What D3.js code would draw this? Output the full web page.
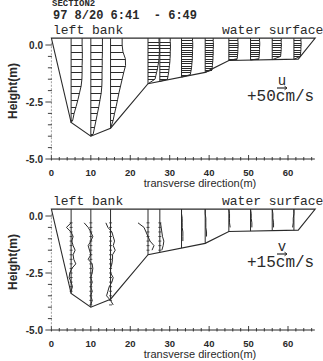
<!DOCTYPE html>
<html><head><meta charset="utf-8">
<script src="https://cdn.jsdelivr.net/npm/d3@7/dist/d3.min.js"></script>
<style>body{margin:0;background:#fff}svg{display:block}</style>
</head><body>
<script>
// ---------- data ----------
const titleLines = ["SECTION2", "97 8/20 6:41  - 6:49"];
const stationX = [5, 10, 15, 24.5, 27.5, 33, 39, 45, 50.5, 56, 61.5];
const bedX = [0, 5, 10, 15, 24.5, 39, 45, 62.6, 66.9];
const bedZ = [0.3, -3.4, -4.0, -3.65, -1.7, -1.2, -0.68, -0.62, 0.3];
const surfaceZ = 0.3;
const xTickValues = [0, 10, 20, 30, 40, 50, 60];
const yTickValues = [0, -2.5, -5];
const yTickLabels = ["0.0", "-2.5", "-5.0"];

// streamwise velocity u (cm/s): first depth (m), depth step (m), values
const uStart = [0.0, 0.0, 0.0, 0.15, 0.15, 0.2, 0.2, 0.2, 0.2, 0.2, 0.2];
const uStep  = [0.3, 0.3, 0.3, 0.15, 0.15, 0.1, 0.1, 0.1, 0.1, 0.1, 0.1];
const uValues = [
  [55, 56, 56, 55, 55, 54, 50, 42, 34, 25, 15, 8],
  [58, 58, 57, 57, 56, 56, 55, 52, 46, 40, 33, 26, 19, 12],
  [58, 62, 74, 75, 66, 58, 50, 42, 35, 28, 20, 13],
  [55, 56, 57, 57, 56, 55, 53, 50, 47, 43, 39, 35],
  [52, 53, 53, 52, 52, 51, 50, 48, 46, 44, 41, 38],
  [55, 56, 56, 56, 55, 55, 55, 54, 54, 53, 52, 51, 50, 48, 46, 44],
  [40, 41, 41, 41, 40, 40, 40, 39, 39, 38, 37, 36, 35, 34],
  [45, 46, 46, 46, 45, 45, 44, 43, 42],
  [45, 46, 46, 45, 45, 45, 44, 43, 42],
  [45, 45, 46, 45, 45, 44, 43, 42],
  [35, 36, 36, 35, 35, 34, 33, 32]
];

// lateral velocity v (cm/s)
const vStart = [-0.3, -0.3, -0.3, -0.3, -0.3, 0.3, 0.3, 0.3, 0.3, 0.3, 0.3];
const vStep  = [0.2, 0.2, 0.2, 0.2, 0.2, 0.2, 0.2, 0.2, 0.2, 0.2, 0.2];
const vValues = [
  [0, -7, 0, 3, 1, 3, 6, 3, 4, 7, 1, -2, -3, 0, 2, 0],
  [-10, -4, 0, 3, 0, -4, -2, 0, -4, 2, 3, 2, 0, 2, 0, 2, 0, 2, 0],
  [-7, -4, 2, 4, 6, 4, 7, 3, 3, 2, 0, 0, 4, 2, -2, -4, -6, 0, 4],
  [-15, -6, -3, 0, 3, 9, 6],
  [1, 2, 3, 4, 6, 5, 3],
  [0, 0, 1, 1, 1, 2, 2, 2],
  [0, 0, 1, 1, 1, 2, 2],
  [0, 1, 1, 1, 2],
  [0, 1, 1, 2, 2],
  [0, 1, 1, 2, 2],
  [0, 0, -1, -1, -2]
];
const wigglyStations = 5;

// ---------- drawing ----------
const W = 323, H = 361, INK = "#2a2a2a";
const svg = d3.select("body").append("svg").attr("width", W).attr("height", H);
const xs = d3.scaleLinear().domain([0, 60]).range([51.4, 288]);
const bed = d3.scaleLinear().domain(bedX).range(bedZ);
const uLen = d3.scaleLinear().domain([0, 50]).range([0, 10]);
const vLen = d3.scaleLinear().domain([0, 15]).range([0, 10]);
const mono = "'Liberation Mono', 'DejaVu Sans Mono', monospace";
const sans = "'Liberation Sans', Arial, sans-serif";

svg.append("text").attr("x", 52).attr("y", 5.5).attr("font-family", mono).attr("font-weight", "bold")
  .attr("font-size", 9).attr("fill", INK).text(titleLines[0]);
svg.append("text").attr("x", 53).attr("y", 18.5).attr("font-family", mono).attr("font-weight", "bold")
  .attr("font-size", 12).attr("fill", INK).attr("xml:space", "preserve").style("white-space", "pre").text(titleLines[1]);

function drawPanel(y0, kind) {
  const g = svg.append("g");
  const ys = d3.scaleLinear().domain([0, -5]).range([y0, y0 + 114]);
  const axisY = ys(-5);
  // x axis
  g.append("line").attr("x1", xs(0)).attr("x2", xs(66.8)).attr("y1", axisY).attr("y2", axisY)
    .attr("stroke", INK).attr("stroke-width", 1);
  g.selectAll(".xm").data(d3.range(0, 67, 2)).join("line")
    .attr("x1", d => xs(d)).attr("x2", d => xs(d))
    .attr("y1", d => axisY - (d % 10 === 0 ? 4 : 2)).attr("y2", axisY + 1.5)
    .attr("stroke", INK).attr("stroke-width", 0.9);
  g.selectAll(".xl").data(xTickValues).join("text")
    .attr("x", d => xs(d)).attr("y", axisY + 16.5).attr("text-anchor", "middle")
    .attr("font-family", sans).attr("font-weight", "bold").attr("font-size", 9.5).attr("fill", INK)
    .text(d => d);
  g.append("text").attr("x", 200).attr("y", axisY + 27.5).attr("text-anchor", "middle")
    .attr("font-family", sans).attr("font-size", 11).attr("fill", INK).text("transverse direction(m)");
  // y axis
  g.append("line").attr("x1", xs(0)).attr("x2", xs(0)).attr("y1", ys(0.1)).attr("y2", axisY)
    .attr("stroke", "#777").attr("stroke-width", 0.7).attr("stroke-dasharray", "2,1.5");
  g.selectAll(".ym").data(d3.range(0, -5.01, -0.5)).join("line")
    .attr("x1", d => xs(0) - (Math.abs(d % 2.5) < 0.01 ? 6 : 3.5)).attr("x2", xs(0) + 0.5)
    .attr("y1", d => ys(d)).attr("y2", d => ys(d))
    .attr("stroke", INK).attr("stroke-width", 0.9);
  g.selectAll(".yl").data(yTickValues).join("text")
    .attr("x", 43).attr("y", d => ys(d) + 3.5).attr("text-anchor", "end")
    .attr("font-family", sans).attr("font-weight", "bold").attr("font-size", 10).attr("fill", INK)
    .text((d, i) => yTickLabels[i]);
  g.append("text").attr("transform", `translate(17,${y0 + 46}) rotate(-90)`).attr("text-anchor", "middle")
    .attr("font-family", sans).attr("font-weight", "bold").attr("font-size", 12).attr("fill", INK)
    .text("Height(m)");
  // cross-section outline
  const pts = bedX.map((b, i) => [xs(b), ys(bedZ[i])]);
  g.append("path").attr("d", d3.line()(pts) + "Z").attr("fill", "none")
    .attr("stroke", INK).attr("stroke-width", 1.1);
  // labels
  g.append("text").attr("x", 53).attr("y", ys(surfaceZ) - 4.5).attr("font-family", mono)
    .attr("font-size", 13).attr("fill", INK).text("left bank");
  g.append("text").attr("x", 222).attr("y", ys(surfaceZ) - 4).attr("font-family", mono)
    .attr("font-size", 13).attr("fill", INK).text("water surface");

  stationX.forEach((sx, i) => {
    const x0 = xs(sx), zb = bed(sx);
    g.append("line").attr("x1", x0).attr("x2", x0).attr("y1", ys(surfaceZ)).attr("y2", ys(zb))
      .attr("stroke", INK).attr("stroke-width", 1);
    if (kind === "u") {
      const pts = uValues[i].map((u, k) => [x0 + uLen(u), ys(uStart[i] - k * uStep[i])]);
      g.selectAll(null).data(pts).join("line")
        .attr("x1", x0).attr("x2", d => d[0]).attr("y1", d => Math.round(d[1]) + 0.5).attr("y2", d => Math.round(d[1]) + 0.5)
        .attr("stroke", INK).attr("stroke-width", 1);
      const env = [[pts[0][0], ys(surfaceZ)], ...pts, [x0, ys(zb)]];
      g.append("path").attr("d", d3.line()(env)).attr("fill", "none").attr("stroke", INK).attr("stroke-width", 1);
    } else {
      const pts = vValues[i].map((v, k) => [x0 + vLen(v), ys(vStart[i] - k * vStep[i])]);
      g.append("path").attr("d", d3.line()(pts)).attr("fill", "none").attr("stroke", INK).attr("stroke-width", 1);
      if (i < wigglyStations) {
        g.selectAll(null).data(pts).join("line")
          .attr("x1", x0 - 1.5).attr("x2", x0 + 1.5).attr("y1", d => d[1]).attr("y2", d => d[1])
          .attr("stroke", INK).attr("stroke-width", 0.8);
      }
    }
  });
  // legend
  const lx = 277, ly = kind === "u" ? y0 + 43 : y0 + 38;
  const len = kind === "u" ? uLen(50) : vLen(15);
  g.append("text").attr("x", lx + len / 2).attr("y", ly - 3).attr("text-anchor", "middle")
    .attr("font-family", mono).attr("font-size", 14).attr("fill", INK).text(kind);
  g.append("line").attr("x1", lx).attr("x2", lx + len).attr("y1", ly).attr("y2", ly)
    .attr("stroke", INK).attr("stroke-width", 1.2);
  g.append("path").attr("d", `M${lx + len - 2.5},${ly - 1.8}L${lx + len},${ly}L${lx + len - 2.5},${ly + 1.8}`)
    .attr("fill", "none").attr("stroke", INK).attr("stroke-width", 1);
  g.append("text").attr("x", 247).attr("y", ly + 13).attr("font-family", mono)
    .attr("font-size", 16).attr("fill", INK).text(kind === "u" ? "+50cm/s" : "+15cm/s");
}

drawPanel(45, "u");
drawPanel(216, "v");
</script>
</body></html>
